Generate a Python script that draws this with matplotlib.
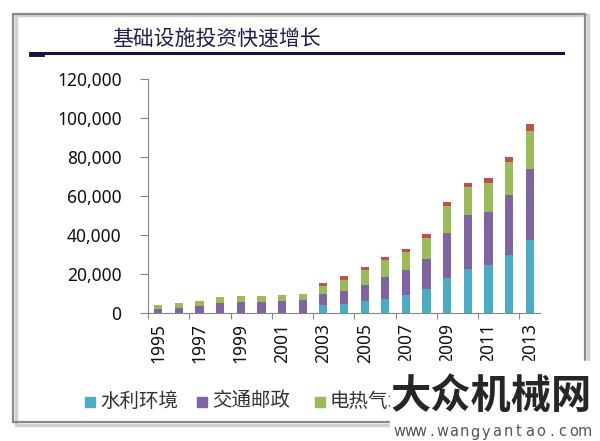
import matplotlib
matplotlib.use("Agg")
import matplotlib.pyplot as plt
import numpy as np
from matplotlib.patches import Rectangle
from matplotlib.lines import Line2D
from matplotlib.ticker import StrMethodFormatter, FixedLocator

# --------------------------------------------------------------------------- #
# Data
# --------------------------------------------------------------------------- #
years = list(range(1995, 2014))
water_env = [0, 0, 0, 0, 0, 0, 0, 0, 4200,
             4600, 6200, 7200, 9200, 12100, 18000, 22400, 24600, 29800, 37400]
transport = [2200, 2700, 3400, 5300, 5600, 5800, 6200, 6500, 5400,
             6800, 8400, 11100, 12700, 15400, 23100, 27700, 27500, 30600, 36300]
power_gas = [2000, 2200, 2600, 2700, 2900, 3100, 3200, 3400, 4100,
             5600, 7300, 8700, 9200, 10900, 13700, 14700, 14900, 16900, 19700]
other = [0, 0, 0, 0, 0, 0, 0, 0, 1500,
         1900, 1700, 1500, 1900, 2100, 2400, 2200, 2100, 2600, 3400]

# the fourth legend entry is hidden under the watermark in the reference
series_names = ["水利环境", "交通邮政", "电热气水"]
series_colors = ["#4bacc6", "#8064a2", "#9bbb59", "#c0504d"]
title_text = "基础设施投资快速增长"

W, H = 600, 441


def fx(x):
    return x / W


def fy(y):
    return 1 - y / H


fig = plt.figure(figsize=(6, 4.41), dpi=100)

# outer frame with a soft shadow
fig.patches.append(Rectangle((fx(16), fy(425)), fx(572), 410 / H,
                             transform=fig.transFigure, fill=False,
                             edgecolor="#d0d0d0", lw=2.5, zorder=0))
fig.patches.append(Rectangle((fx(13), fy(422)), fx(572), 408 / H,
                             transform=fig.transFigure, fill=False,
                             edgecolor="#8a8a8a", lw=1.6, zorder=1))

# title and rule under it
fig.text(fx(112), fy(39), title_text, fontsize=15, color="#1f1f4f",
         family=["Noto Sans CJK SC", "DejaVu Sans"], va="center", ha="left")
fig.lines.append(Line2D([fx(31), fx(563)], [fy(53), fy(53)],
                        transform=fig.transFigure, color="#14143c", lw=2.2))
fig.lines.append(Line2D([fx(31), fx(42)], [fy(54), fy(54)],
                        transform=fig.transFigure, color="#14143c", lw=3.5))

# --------------------------------------------------------------------------- #
# Stacked bars
# --------------------------------------------------------------------------- #
ax = fig.add_axes([fx(148), fy(313), (540 - 148) / W, (313 - 79.3) / H])
x = np.arange(len(years))
bottom = np.zeros(len(years))
for vals, color in zip([water_env, transport, power_gas, other], series_colors):
    vals = np.array(vals, dtype=float)
    ax.bar(x, vals, width=0.4, bottom=bottom, color=color, zorder=2)
    bottom += vals

ax.set_xlim(-0.5, len(years) - 0.5)
ax.set_ylim(0, 120000)
ax.set_yticks(np.arange(0, 120001, 20000))
ax.yaxis.set_major_formatter(StrMethodFormatter("{x:,.0f}"))

# x: tick marks at every second category boundary, labels every second year
ax.xaxis.set_major_locator(FixedLocator(np.arange(-0.5, len(years) - 0.5, 2)))
ax.xaxis.set_minor_locator(FixedLocator(x[::2]))
ax.set_xticklabels([], minor=False)
ax.set_xticklabels([str(y) for y in years[::2]], minor=True, rotation=90)
ax.tick_params(axis="x", which="major", length=4, color="#868686", width=0.8)
ax.tick_params(axis="x", which="minor", length=0, pad=7, labelsize=12.5,
               labelcolor="#111111")
ax.tick_params(axis="y", which="major", direction="out", length=6,
               color="#868686", width=0.8, pad=13, labelsize=12.5,
               labelcolor="#111111")

for side in ["top", "right"]:
    ax.spines[side].set_visible(False)
for side in ["left", "bottom"]:
    ax.spines[side].set_color("#868686")
    ax.spines[side].set_linewidth(0.8)

for lbl in ax.get_xticklabels(minor=True) + ax.get_yticklabels():
    lbl.set_family(["Noto Sans", "DejaVu Sans"])

# --------------------------------------------------------------------------- #
# Legend drawn by hand (squares + labels in one row)
# --------------------------------------------------------------------------- #
legend_x = [85, 197, 315]
clip = Rectangle((0, 0), fx(390), 1, transform=fig.transFigure)
for lx, name, color in zip(legend_x, series_names, series_colors):
    fig.patches.append(Rectangle((fx(lx), fy(407)), fx(10), 10 / H,
                                 transform=fig.transFigure, color=color))
    t = fig.text(fx(lx + 15), fy(401), name, fontsize=14, color="#333333",
                 family=["Noto Sans CJK SC", "DejaVu Sans"], va="center")
    t.set_clip_path(clip)

# --------------------------------------------------------------------------- #
# Watermark in the lower right corner
# --------------------------------------------------------------------------- #
fig.patches.append(Rectangle((fx(390), 0), fx(210), 80 / H,
                             transform=fig.transFigure, color="white",
                             zorder=5))
fig.text(fx(491), fy(396), "大众机械网", fontsize=29, fontweight="bold",
         color="#262626", family=["Noto Sans CJK SC", "DejaVu Sans"],
         ha="center", va="center", zorder=6)
site = "www.wangyantao.com"
for i, ch in enumerate(site):
    fig.text(fx(399 + i * 10.9), fy(432), ch, fontsize=10.5, color="#555555",
             ha="center", va="center", zorder=6)

fig.savefig("out.png", dpi=100)
